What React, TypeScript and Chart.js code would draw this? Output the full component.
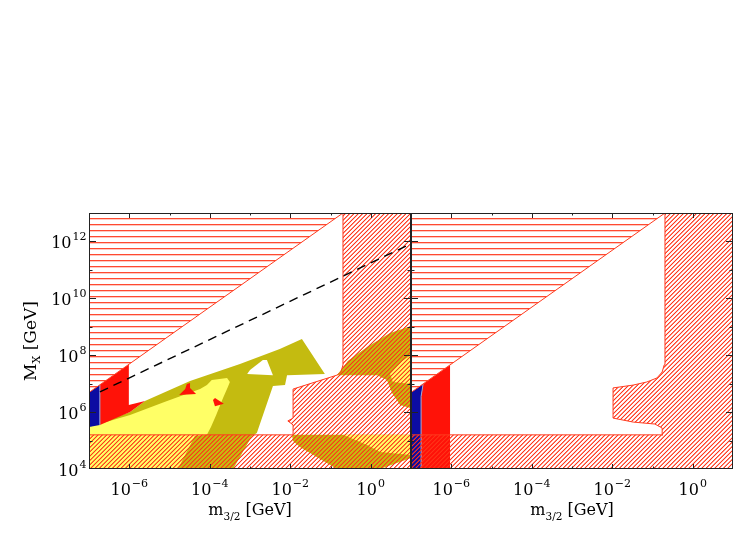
import React, { useEffect, useRef } from 'react';
import { Chart, registerables } from 'chart.js';
Chart.register(...registerables);

// ---- axis ranges & ticks (log10 decades) ----
const X_MIN = 1e-7;
const X_MAX = 1e1;
const Y_MIN = 1e4;
const Y_MAX = 1e13;
const xTickExponents = [-6, -5, -4, -3, -2, -1, 0];
const xLabelExponents = [-6, -4, -2, 0];
const yTickExponents = [5, 6, 7, 8, 9, 10, 11, 12];
const yLabelExponents = [4, 6, 8, 10, 12];

// ---- regions, as [log10 m3/2, log10 MX] vertices ----
// common to both panels
const diagonalEdge = [[-7, 6.69], [-0.69, 13]];
const triangleExcluded = [[-7, 6.69], [-0.69, 13], [-7, 13]];

// left panel
const leftHatch = [[-0.69, 13], [1, 13], [1, 4], [-7, 4], [-7, 5.2], [-1.93, 5.2], [-1.93, 5.55], [-2.06, 5.69], [-1.93, 5.79], [-1.93, 6.81], [-0.84, 7.3], [-0.74, 7.41], [-0.69, 7.66], [-0.69, 13]];
const leftOliveMain = [[-7, 5.48], [-5.98, 6.0], [-5.61, 6.39], [-4.49, 7.09], [-3.25, 7.69], [-2.26, 8.22], [-1.71, 8.57], [-1.14, 7.34], [-2.08, 7.3], [-2.13, 6.95], [-2.43, 6.92], [-2.83, 5.27], [-2.95, 5.16], [-3.42, 4.0], [-7, 4.0]];
const leftYellowMain = [[-7, 5.48], [-5.98, 5.9], [-5.11, 6.36], [-4.24, 6.81], [-4.07, 6.95], [-3.95, 7.13], [-3.57, 7.2], [-3.5, 7.06], [-3.55, 6.88], [-3.67, 6.5], [-3.84, 5.9], [-3.97, 5.48], [-4.07, 5.2], [-4.37, 5.16], [-4.79, 4.0], [-7, 4.0]];
const leftOliveUpperRight = [[-0.84, 7.3], [-0.57, 7.8], [-0.09, 8.29], [0.48, 8.78], [1, 9.03], [1, 6.14], [0.73, 6.25], [0.53, 6.67], [0.4, 7.13], [0.16, 7.3]];
const leftYellowUpperRight = [[1, 8.01], [0.78, 7.8], [0.48, 7.34], [0.55, 7.06], [1, 6.99]];
const leftOliveBand = [[-1.96, 5.2], [1, 5.2], [1, 4.39], [0.23, 4.0], [-0.84, 4.0], [-1.76, 4.77], [-1.93, 4.98]];
const leftYellowBand = [[-0.69, 5.2], [1, 5.2], [1, 4.49], [0.23, 4.6], [-0.09, 4.84]];
const leftWhiteHole = [[-3.07, 7.34], [-3.0, 7.48], [-2.68, 7.83], [-2.58, 7.83], [-2.43, 7.3]];
const leftRedBlobA = [[-4.76, 6.6], [-4.61, 6.81], [-4.57, 6.99], [-4.49, 7.02], [-4.49, 6.85], [-4.34, 6.64]];
const leftRedBlobB = [[-3.92, 6.43], [-3.87, 6.5], [-3.65, 6.29], [-3.87, 6.21]];
const leftRed = [[-6.73, 6.96], [-6.01, 7.68], [-6.01, 6.25], [-5.61, 6.39], [-5.98, 6.0], [-6.73, 5.55]];
const leftBlue = [[-7, 5.48], [-6.73, 5.55], [-6.73, 6.96], [-7, 6.69]];
const leftBlueEdge = [[-6.73, 5.55], [-6.73, 6.96]];
const leftDashed = [[-6.73, 6.71], [1, 11.92]];

// right panel
const rightHatch = [[-0.69, 13], [1, 13], [1, 4], [-7, 4], [-7, 5.2], [-0.74, 5.2], [-0.76, 5.44], [-0.94, 5.58], [-1.48, 5.65], [-1.98, 5.79], [-1.98, 6.85], [-1.48, 6.95], [-1.14, 7.06], [-0.89, 7.2], [-0.76, 7.41], [-0.71, 7.66], [-0.69, 13]];
const rightBlue = [[-7, 4], [-6.75, 4], [-6.75, 6.55], [-6.72, 6.8], [-6.7, 6.99], [-7, 6.69]];
const rightRed = [[-6.75, 4], [-6.03, 4], [-6.03, 7.66], [-6.7, 6.99], [-6.72, 6.8], [-6.75, 6.55]];
const rightBlueEdge = [[-6.75, 4], [-6.75, 6.55], [-6.72, 6.8], [-6.7, 6.99]];

const OLIVE = '#c4bb10';
const YELLOW = '#ffff66';
const RED = '#ff1208';
const BLUE = '#0c0ca2';
const HATCH = '#ff3b1f';
const FONT = '"DejaVu Serif"';

const toPts = (arr: number[][]) => arr.map(([a, b]) => ({ x: Math.pow(10, a), y: Math.pow(10, b) }));

function area(data: number[][], bg: any, border?: string, bw = 1) {
  return {
    data: toPts(data),
    showLine: true,
    fill: 'shape',
    backgroundColor: bg,
    borderColor: border || 'rgba(0,0,0,0)',
    borderWidth: border ? bw : 0,
    pointRadius: 0,
    tension: 0,
  };
}
function line(data: number[][], color: string, width: number, dash?: number[]) {
  return {
    data: toPts(data),
    showLine: true,
    fill: false,
    borderColor: color,
    borderWidth: width,
    borderDash: dash || [],
    pointRadius: 0,
    tension: 0,
  };
}

function diagPattern() {
  const N = 13;
  const period = N / 3;
  const c = document.createElement('canvas');
  c.width = N; c.height = N;
  const g = c.getContext('2d')!;
  const img = g.createImageData(N, N);
  for (let y = 0; y < N; y++) {
    for (let x = 0; x < N; x++) {
      const s = x + y + 1;
      let d = s % period;
      d = Math.min(d, period - d);
      const perp = d / Math.SQRT2;
      const a = Math.max(0, Math.min(1, 1.25 - perp / 0.7));
      const i = (y * N + x) * 4;
      img.data[i] = 255; img.data[i + 1] = 52; img.data[i + 2] = 24;
      img.data[i + 3] = Math.round(a * 255);
    }
  }
  g.putImageData(img, 0, 0);
  return g.createPattern(c, 'repeat');
}
function horizPattern() {
  const c = document.createElement('canvas');
  c.width = 6; c.height = 6;
  const g = c.getContext('2d')!;
  g.fillStyle = '#ffffff';
  g.fillRect(0, 0, 6, 6);
  g.fillStyle = '#ff4a30';
  g.fillRect(0, 2, 6, 1);
  g.fillStyle = 'rgba(255,74,48,0.3)';
  g.fillRect(0, 3, 6, 1);
  return g.createPattern(c, 'repeat');
}

function drawPow(ctx: CanvasRenderingContext2D, exp: number, x: number, baseY: number, align: 'center' | 'right') {
  const base = '10';
  const e = exp < 0 ? '\u2212' + Math.abs(exp) : String(exp);
  ctx.font = `16px ${FONT}`;
  const wb = ctx.measureText(base).width;
  ctx.font = `11px ${FONT}`;
  const we = ctx.measureText(e).width;
  const total = wb + 1 + we;
  const x0 = align === 'center' ? x - total / 2 : x - total;
  ctx.textAlign = 'left';
  ctx.textBaseline = 'alphabetic';
  ctx.font = `16px ${FONT}`;
  ctx.fillText(base, x0, baseY);
  ctx.font = `11px ${FONT}`;
  ctx.fillText(e, x0 + wb + 1, baseY - 8);
}

function decor(showY: boolean) {
  return {
    id: 'decor' + (showY ? 'L' : 'R'),
    afterDraw(chart: any) {
      const { ctx, chartArea: a } = chart;
      const xs = chart.scales.x;
      const ys = chart.scales.y;
      ctx.save();
      ctx.strokeStyle = '#222';
      ctx.lineWidth = 1;
      ctx.strokeRect(a.left + 0.5, a.top + 0.5, a.right - a.left - 1, a.bottom - a.top - 1);
      ctx.beginPath();
      for (const e of xTickExponents) {
        const px = Math.round(xs.getPixelForValue(Math.pow(10, e))) + 0.5;
        const len = e % 2 === 0 ? 5 : 2.5;
        ctx.moveTo(px, a.bottom); ctx.lineTo(px, a.bottom - len);
        ctx.moveTo(px, a.top); ctx.lineTo(px, a.top + len);
      }
      for (const e of yTickExponents) {
        const py = Math.round(ys.getPixelForValue(Math.pow(10, e))) + 0.5;
        const len = e % 2 === 0 ? 7 : 3.5;
        ctx.moveTo(a.left, py); ctx.lineTo(a.left + len, py);
        ctx.moveTo(a.right, py); ctx.lineTo(a.right - len, py);
      }
      ctx.stroke();
      ctx.fillStyle = '#000';
      for (const e of xLabelExponents) {
        drawPow(ctx, e, xs.getPixelForValue(Math.pow(10, e)), 495, 'center');
      }
      // x title
      const cx = (a.left + a.right) / 2;
      ctx.font = `16px ${FONT}`;
      const wm = ctx.measureText('m').width;
      const wg = ctx.measureText(' [GeV]').width;
      ctx.font = `10.5px ${FONT}`;
      const ws = ctx.measureText('3/2').width;
      const x0 = cx - (wm + ws + wg) / 2;
      ctx.textAlign = 'left';
      ctx.font = `16px ${FONT}`;
      ctx.fillText('m', x0, 515);
      ctx.font = `10.5px ${FONT}`;
      ctx.fillText('3/2', x0 + wm, 520);
      ctx.font = `16px ${FONT}`;
      ctx.fillText(' [GeV]', x0 + wm + ws, 515);
      if (showY) {
        for (const e of yLabelExponents) {
          drawPow(ctx, e, 86.5, ys.getPixelForValue(Math.pow(10, e)) + 7, 'right');
        }
        ctx.save();
        ctx.translate(36, (a.top + a.bottom) / 2);
        ctx.rotate(-Math.PI / 2);
        ctx.font = `17px ${FONT}`;
        const wM = ctx.measureText('M').width;
        const wG = ctx.measureText(' [GeV]').width;
        ctx.font = `11px ${FONT}`;
        const wX = ctx.measureText('X').width;
        const s = -(wM + wX + wG) / 2;
        ctx.font = `17px ${FONT}`;
        ctx.fillText('M', s, 0);
        ctx.font = `11px ${FONT}`;
        ctx.fillText('X', s + wM, 4);
        ctx.font = `17px ${FONT}`;
        ctx.fillText(' [GeV]', s + wM + wX, 0);
        ctx.restore();
      }
      ctx.restore();
    },
  };
}

function makeConfig(datasets: any[], padLeft: number, padRight: number, showY: boolean): any {
  const n = datasets.length;
  datasets.forEach((d, i) => { d.order = n - i; });
  return {
    type: 'scatter',
    data: { datasets },
    options: {
      responsive: false,
      animation: false,
      events: [],
      devicePixelRatio: 1,
      layout: { padding: { left: padLeft, right: padRight, top: 213, bottom: 65 } },
      scales: {
        x: { type: 'logarithmic', min: X_MIN, max: X_MAX, display: false },
        y: { type: 'logarithmic', min: Y_MIN, max: Y_MAX, display: false },
      },
      plugins: { legend: { display: false }, tooltip: { enabled: false } },
    },
    plugins: [decor(showY)],
  };
}

export default function App() {
  const leftRef = useRef<HTMLCanvasElement>(null);
  const rightRef = useRef<HTMLCanvasElement>(null);
  useEffect(() => {
    const dp = diagPattern();
    const hp = horizPattern();
    const leftSets = [
      area(leftOliveMain, OLIVE),
      area(leftYellowMain, YELLOW),
      area(leftOliveUpperRight, OLIVE),
      area(leftYellowUpperRight, YELLOW),
      area(leftOliveBand, OLIVE),
      area(leftYellowBand, YELLOW),
      area(leftWhiteHole, '#ffffff'),
      area(leftRedBlobA, RED),
      area(leftRedBlobB, RED),
      area(leftRed, RED),
      area(leftBlue, BLUE),
      line(leftBlueEdge, '#9aa6d8', 1),
      area(leftHatch, dp, HATCH, 1),
      area(triangleExcluded, hp),
      line(diagonalEdge, HATCH, 1),
      line(leftDashed, '#000000', 1.4, [9, 6]),
    ];
    const rightSets = [
      area(rightBlue, BLUE),
      area(rightRed, RED),
      line(rightBlueEdge, '#9aa6d8', 1),
      area(rightHatch, dp, HATCH, 1),
      area(triangleExcluded, hp),
      line(diagonalEdge, HATCH, 1),
    ];
    const c1 = new Chart(leftRef.current!, makeConfig(leftSets, 89, 747 - 411, true));
    const c2 = new Chart(rightRef.current!, makeConfig(rightSets, 411, 747 - 733, false));
    return () => { c1.destroy(); c2.destroy(); };
  }, []);
  return (
    <div style={{ position: 'absolute', left: 0, top: 0, width: 747, height: 534, background: '#ffffff' }}>
      <canvas ref={leftRef} width={747} height={534} style={{ position: 'absolute', left: 0, top: 0 }} />
      <canvas ref={rightRef} width={747} height={534} style={{ position: 'absolute', left: 0, top: 0 }} />
    </div>
  );
}
